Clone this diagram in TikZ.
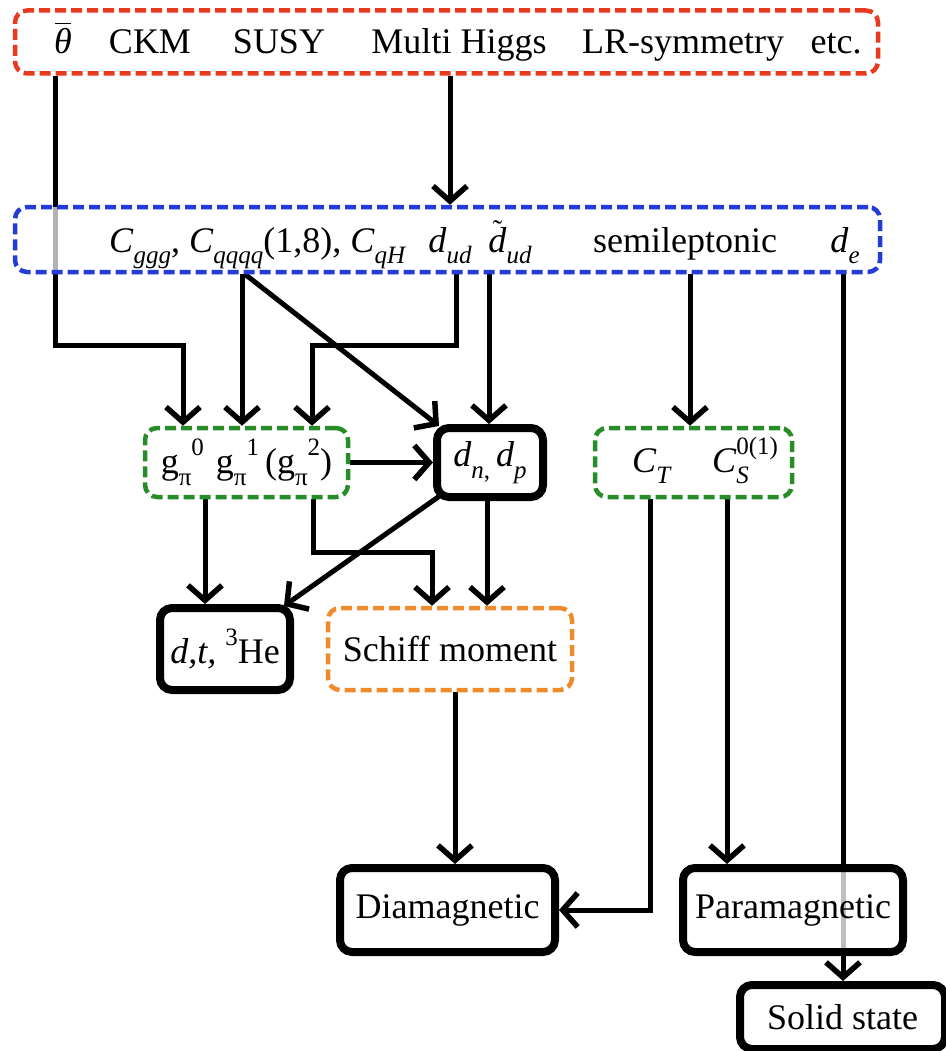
\documentclass[tikz,border=0pt]{standalone}
\usepackage{fontspec}
\setmainfont{Liberation Serif}
\usetikzlibrary{arrows.meta,backgrounds}
\newcommand\sbs[1]{\raisebox{-0.32em}{\fontsize{25}{25}\selectfont #1}}
\newcommand\sps[1]{\raisebox{0.5em}{\fontsize{25}{25}\selectfont #1}}
\newcommand\sbsp[2]{\rlap{\sbs{#1}}\sps{#2}}
\newcommand\thetabar{\ooalign{\textit{θ}\cr\hidewidth\raisebox{0.82em}{\rule{0.42em}{0.05em}}\hidewidth\cr}}
\newcommand\dtil{\ooalign{\textit{d}\cr\hidewidth\raisebox{0.36em}{\fontsize{28}{28}\selectfont ˜}\hidewidth\cr}}
\definecolor{cred}{RGB}{232,58,32}
\definecolor{cblue}{RGB}{35,60,215}
\definecolor{cgreen}{RGB}{40,140,40}
\definecolor{corange}{RGB}{238,140,45}
\tikzset{
  txt/.style={inner sep=0pt, font=\fontsize{36}{42}\selectfont},
  dbox/.style={draw, line width=4.5pt, rounded corners=12pt, dash pattern=on 11pt off 5pt,
    fill=white, fill opacity=0.7, text opacity=1, inner sep=0pt, font=\fontsize{36}{42}\selectfont},
  tbox/.style={draw, line width=8pt, rounded corners=12pt, fill=white, fill opacity=0.75,
    text opacity=1, inner sep=0pt, font=\fontsize{36}{42}\selectfont},
  arr/.style={line width=5pt, -{Straight Barb[length=15pt,width=34pt,line width=5.5pt]}},
}
\begin{document}
\begin{tikzpicture}[x=1pt,y=-1pt]
\useasboundingbox (0,0) rectangle (945,1051);
% top box
\node[dbox, draw=cred, minimum width=863pt, minimum height=63pt] (red) at (446.5,42) {};
\node[txt, anchor=base] (theta) at (63,54) {\thetabar};
\node[txt, anchor=base] (ckm) at (150,54) {CKM};
\node[txt, anchor=base] (susy) at (279,54) {SUSY};
\node[txt, anchor=base] (mh) at (459,54) {Multi Higgs};
\node[txt, anchor=base] (lr) at (683,54) {LR-symmetry};
\node[txt, anchor=base] (etc) at (836,54) {etc.};
% second box
\node[dbox, draw=cblue, minimum width=865pt, minimum height=65pt] (blue) at (447.5,239.5) {};
\node[txt, anchor=base west] (cg) at (109,252) {\textit{C}\sbs{\textit{ggg}}, \textit{C}\sbs{\textit{qqqq}}(1,8), \textit{C}\sbs{\textit{qH}}};
\node[txt, anchor=base] (dud) at (450,252) {\textit{d}\sbs{\textit{ud}}};
\node[txt, anchor=base] (tdud) at (510,252) {\dtil\sbs{\textit{ud}}};
\node[txt, anchor=base] (semi) at (685,252) {semileptonic};
\node[txt, anchor=base] (de) at (845,252) {\textit{d}\sbs{\textit{e}}};
% third row
\node[dbox, draw=cgreen, minimum width=203pt, minimum height=69pt] (g1) at (246.5,462.5)
  {g\sbs{π}\sps{0}\,\,g\sbs{π}\sps{1}\,(g\sbs{π}\sps{2})};
\node[tbox, minimum width=106pt, minimum height=69pt] (dn) at (490,462.5)
  {\textit{d}\sbs{\textit{n},}\,\textit{d}\sbs{\textit{p}}};
\node[dbox, draw=cgreen, minimum width=197pt, minimum height=69pt] (g2) at (693.5,462.5) {};
\node[txt, anchor=base] (ct) at (652,472) {\textit{C}\sbs{\textit{T}}};
\node[txt, anchor=base] (cs) at (745,472) {\textit{C}\sbsp{\textit{S}}{0(1)}};
% fourth row
\node[tbox, minimum width=130pt, minimum height=82pt] (dt) at (225,649) {\textit{d,t,} \sps{3}He};
\node[dbox, draw=corange, minimum width=244pt, minimum height=82pt] (sch) at (450,649) {Schiff moment};
% bottom
\node[tbox, minimum width=215pt, minimum height=84pt] (dia) at (447.5,910) {Diamagnetic};
\node[tbox, minimum width=220pt, minimum height=84pt] (para) at (793,910) {Paramagnetic};
\node[tbox, minimum width=205pt, minimum height=64pt] (solid) at (842.5,1017) {Solid state};
% connectors
\begin{pgfonlayer}{background}
\draw[arr] (55,0 |- red.south) -- (55,345) -- (183,345) -- (183,0 |- g1.north);
\draw[arr] (450,0 |- red.south) -- (450,0 |- blue.north);
\draw[arr] (242,0 |- blue.south) -- (242,0 |- g1.north);
\draw[arr] (245,0 |- blue.south) -- ([xshift=6pt,yshift=-2pt]dn.north west);
\draw[arr] (456,0 |- blue.south) -- (456,345) -- (312,345) -- (312,0 |- g1.north);
\draw[arr] (489,0 |- blue.south) -- (489,0 |- dn.north);
\draw[arr] (690,0 |- blue.south) -- (690,0 |- g2.north);
\draw[arr] (843,0 |- blue.south) -- (843,0 |- solid.north);
\draw[arr] (g1.east) -- (dn.west);
\draw[arr] (205,0 |- g1.south) -- (205,0 |- dt.north);
\draw[arr] (313,0 |- g1.south) -- (313,552) -- (432,552) -- (432,0 |- sch.north);
\draw[arr] (487,0 |- dn.south) -- (487,0 |- sch.north);
\draw[arr] ([xshift=8pt,yshift=6pt]dn.south west) -- ([xshift=-10pt,yshift=-2pt]dt.north east);
\draw[arr] (455,0 |- sch.south) -- (455,0 |- dia.north);
\draw[arr] (650,0 |- g2.south) |- (dia.east);
\draw[arr] (727,0 |- g2.south) -- (727,0 |- para.north);
\end{pgfonlayer}
\end{tikzpicture}
\end{document}
